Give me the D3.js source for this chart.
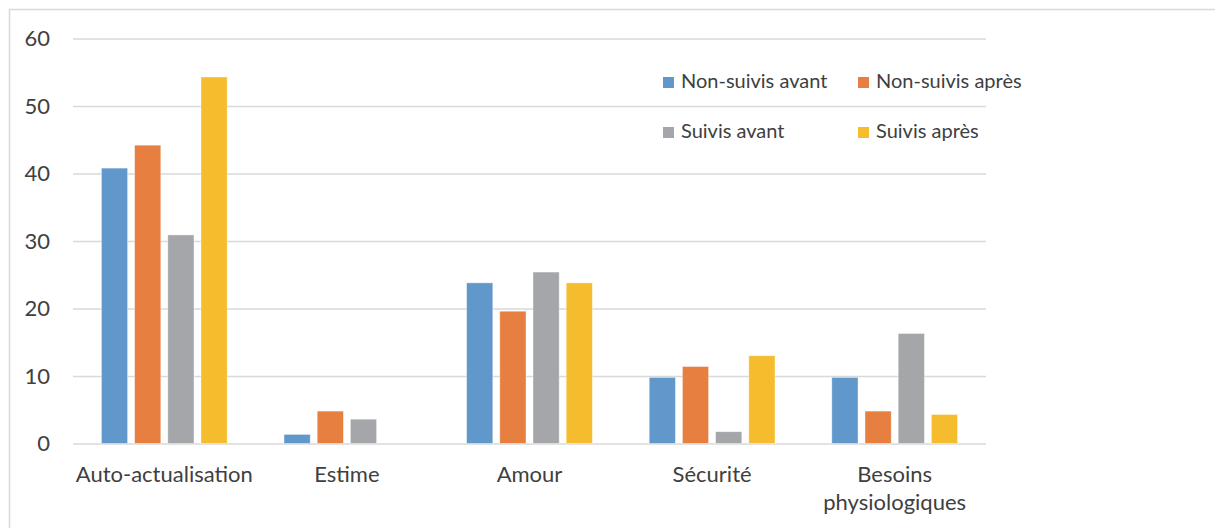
<!DOCTYPE html>
<html>
<head>
<meta charset="utf-8">
<script src="https://cdn.jsdelivr.net/npm/d3@7"></script>
<style>
  body { margin: 0; background: #fff; }
  svg { font-family: Lato, "Open Sans", sans-serif; }
</style>
</head>
<body>
<div id="chart"></div>
<script>
const categories = ["Auto-actualisation", "Estime", "Amour", "Sécurité", "Besoins physiologiques"];
const seriesNames = ["Non-suivis avant", "Non-suivis après", "Suivis avant", "Suivis après"];
const nonSuivisAvant = [40.8, 1.35, 23.8, 9.8, 9.8];
const nonSuivisApres = [44.2, 4.8, 19.6, 11.4, 4.8];
const suivisAvant = [30.9, 3.6, 25.4, 1.75, 16.3];
const suivisApres = [54.3, 0, 23.8, 13.0, 4.3];
const yTicks = [0, 10, 20, 30, 40, 50, 60];
const colors = ["#6198cb", "#e67f3f", "#a5a6aa", "#f5bd2d"];

const width = 1215;
const height = 528;
const margin = { top: 38.5, right: 229, bottom: 84.5, left: 73 };  // plot area edges

const svg = d3.select("#chart")
    .append("svg")
    .attr("width", width)
    .attr("height", height);

// outer chart border
svg.append("rect")
    .attr("x", 9.5).attr("y", 9.5)
    .attr("width", width + 10).attr("height", height + 10)
    .attr("fill", "none")
    .attr("stroke", "#d9d9d9")
    .attr("stroke-width", 1.5);

const yScale = d3.scaleLinear()
    .domain([0, 60])
    .range([height - margin.bottom, margin.top]);

const xScale = d3.scaleBand()
    .domain(categories)
    .range([margin.left, width - margin.right]);

const innerBand = 125.8;
const xInner = d3.scaleBand()
    .domain(seriesNames)
    .range([0, innerBand])
    .paddingInner(0.21);

// gridlines
svg.append("g")
    .attr("transform", `translate(${margin.left}, 0)`)
    .call(d3.axisLeft(yScale).tickValues(yTicks).tickFormat("").tickSize(-(width - margin.left - margin.right)))
    .call(g => g.select(".domain").remove())
    .call(g => g.selectAll("line").attr("stroke", "#d9d9d9").attr("stroke-width", 1.5));

// y axis labels
svg.append("g")
    .attr("transform", `translate(${margin.left}, 0)`)
    .call(d3.axisLeft(yScale).tickValues(yTicks).tickSize(0).tickPadding(23))
    .call(g => g.select(".domain").remove())
    .call(g => g.selectAll("text")
        .attr("fill", "#404040")
        .style("font-size", "22px")
        .style("font-family", "Lato, 'Open Sans', sans-serif"));

const seriesValues = [nonSuivisAvant, nonSuivisApres, suivisAvant, suivisApres];

seriesValues.forEach((vals, si) => {
    svg.append("g")
        .selectAll("rect")
        .data(categories.map((c, i) => ({ cat: c, value: vals[i] })))
        .enter()
        .append("rect")
        .attr("x", d => xScale(d.cat) + (xScale.bandwidth() - innerBand) / 2 + xInner(seriesNames[si]))
        .attr("width", xInner.bandwidth())
        .attr("y", d => yScale(d.value))
        .attr("height", d => yScale(0) - yScale(d.value))
        .attr("fill", colors[si])
        .attr("stroke", d => d.value > 0 ? "#ffffff" : "none")
        .attr("stroke-opacity", 0.5)
        .attr("stroke-width", 0.8);
});

// x axis labels
const xLabels = svg.append("g")
    .selectAll("text")
    .data(categories)
    .enter()
    .append("text")
    .attr("x", d => xScale(d) + xScale.bandwidth() / 2)
    .attr("y", 482)
    .attr("text-anchor", "middle")
    .attr("fill", "#404040")
    .style("font-size", "22px");

xLabels.each(function (d) {
    const words = d === "Besoins physiologiques" ? ["Besoins", "physiologiques"] : [d];
    const t = d3.select(this);
    words.forEach((w, i) => {
        t.append("tspan")
            .attr("x", xScale(d) + xScale.bandwidth() / 2)
            .attr("dy", i === 0 ? 0 : 28)
            .text(w);
    });
});

// legend
const legendPos = [[663, 77], [858, 77], [663, 127], [858, 127]];
const legend = svg.append("g")
    .selectAll("g")
    .data(seriesNames)
    .enter()
    .append("g")
    .attr("transform", (d, i) => `translate(${legendPos[i][0]}, ${legendPos[i][1]})`);

legend.append("rect")
    .attr("width", 11)
    .attr("height", 11)
    .attr("fill", (d, i) => colors[i]);

legend.append("text")
    .attr("x", 18)
    .attr("y", 11)
    .attr("fill", "#404040")
    .style("font-size", "20px")
    .text(d => d);
</script>
</body>
</html>
